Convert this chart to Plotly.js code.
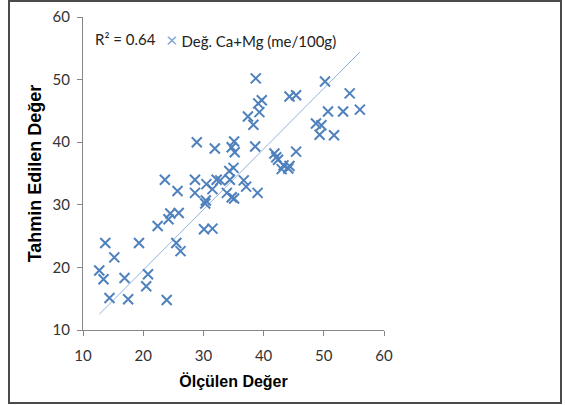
<!DOCTYPE html>
<html>
<head>
<meta charset="utf-8">
<script src="https://cdn.plot.ly/plotly-3.0.1.min.js"></script>
<style>
  html, body { margin: 0; padding: 0; background: #fff; }
  #wrap { position: relative; width: 565px; height: 405px; }
  #chart { position: absolute; left: 0; top: 0; width: 565px; height: 405px; }
  #frame { position: absolute; left: 8px; top: 0px; width: 554px; height: 404px;
           box-sizing: border-box; border: 2px solid #4a4a4a; pointer-events: none; }
</style>
</head>
<body>
<div id="wrap">
  <div id="chart"></div>
  <div id="frame"></div>
</div>
<script>
// Measured values (Ölçülen Değer)
const measured = [12.7,13.4,13.7,14.4,15.2,16.9,17.5,19.3,20.5,20.8,22.4,23.9,24.2,24.5,25.5,25.9,26.2,23.6,25.7,28.6,28.6,30.3,30.4,30.1,31.5,30.5,31.5,32.2,32.8,33.9,34.3,34.4,34.7,35.1,35.0,36.7,37.1,39.0,
  28.9,31.9,34.7,35.1,35.2,38.6,37.4,38.3,39.3,39.1,39.7,38.7,44.3,45.4,50.2,54.3,56.0,53.2,50.7,48.7,49.6,49.3,51.7,45.4,41.8,42.1,42.4,43.3,44.3,43.0,44.1];
// Predicted values (Tahmin Edilen Değer)
const predicted = [19.5,18.1,23.9,15.1,21.6,18.3,14.9,23.9,17.0,18.9,26.6,14.8,27.7,28.6,23.9,28.7,22.6,34.0,32.2,34.0,31.9,30.2,30.7,26.1,26.2,33.3,32.5,34.0,33.9,31.9,35.4,34.0,31.2,31.0,35.9,33.9,32.9,31.9,
  40.0,39.0,39.2,40.1,38.4,39.3,44.1,42.8,44.8,46.2,46.7,50.2,47.3,47.5,49.7,47.8,45.2,44.9,44.9,43.0,42.7,41.2,41.1,38.5,38.2,37.6,37.2,36.3,36.2,35.7,35.8];
// Linear trendline end points
const trendX = [12.7, 56.0];
const trendY = [12.5, 54.4];
const seriesName = "Değ. Ca+Mg (me/100g)";
const r2Label = "R² = 0.64";
const tickVals = [10, 20, 30, 40, 50, 60];
const xTitle = "Ölçülen Değer";
const yTitle = "Tahmin Edilen Değer";

const traces = [
  {
    x: trendX, y: trendY, type: "scatter", mode: "lines",
    line: { color: "#93b3dc", width: 1 }, showlegend: false, hoverinfo: "skip"
  },
  {
    x: measured, y: predicted, type: "scatter", mode: "markers", name: seriesName,
    marker: { symbol: "x-thin-open", size: 10, color: "#4f81bd", line: { color: "#4f81bd", width: 2 } },
    showlegend: false
  }
];

const axisCommon = {
  range: [10, 60], tickvals: tickVals, ticktext: tickVals.map(String),
  showgrid: false, zeroline: false, showline: true, linecolor: "#868686", linewidth: 1,
  ticks: "outside", ticklen: 5, tickcolor: "#868686", tickwidth: 1,
  tickfont: { family: "Lato, sans-serif", size: 15, color: "#333" }
};

const layout = {
  width: 565, height: 405,
  margin: { l: 83, r: 181, t: 17, b: 75 },
  paper_bgcolor: "rgba(0,0,0,0)", plot_bgcolor: "#fff",
  showlegend: false,
  xaxis: Object.assign({}, axisCommon, {
    ticklabelstandoff: 7,
    title: { text: xTitle, font: { family: "Liberation Sans, Arial, sans-serif", size: 16, color: "#000", weight: "bold" }, standoff: 12 }
  }),
  yaxis: Object.assign({}, axisCommon, {
    ticklabelstandoff: 4,
    title: { text: yTitle, font: { family: "Liberation Sans, Arial, sans-serif", size: 18, color: "#000", weight: "bold" }, standoff: 6 }
  }),
  annotations: [
    { xref: "paper", yref: "paper", x: 0.034, y: 0.931, xanchor: "left", yanchor: "middle",
      text: r2Label, showarrow: false, font: { family: "Lato, sans-serif", size: 15, color: "#222" } },
    { xref: "paper", yref: "paper", x: 0.27, y: 0.931, xanchor: "left", yanchor: "middle",
      text: '<span style="color:#7fa6d8;font-size:20px">×</span> ' + seriesName, showarrow: false,
      font: { family: "Lato, sans-serif", size: 15, color: "#222" } }
  ]
};

Plotly.newPlot("chart", traces, layout, { staticPlot: true, displayModeBar: false });
</script>
</body>
</html>
